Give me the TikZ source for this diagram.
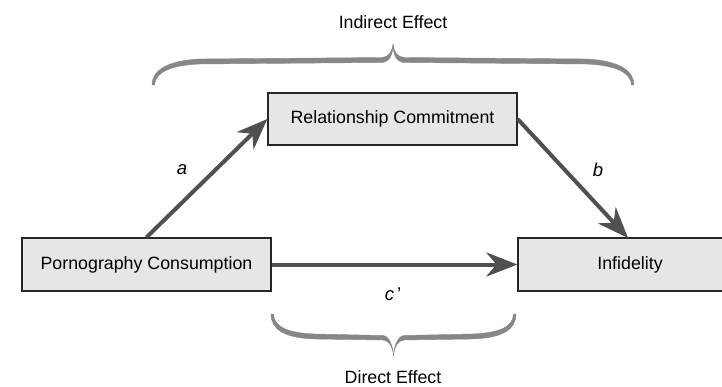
\documentclass[tikz,border=0pt]{standalone}
\usepackage{fontspec}
\setmainfont{Liberation Sans}
\usetikzlibrary{arrows.meta}
\definecolor{arrowgray}{RGB}{80,80,80}
\definecolor{bracegray}{RGB}{135,135,135}
\definecolor{boxfill}{RGB}{230,230,230}
\begin{document}
\begin{tikzpicture}[x=1pt,y=-1pt,
  varbox/.style={draw=black!85, line width=1.3pt, fill=boxfill, minimum height=53pt, inner sep=0pt,
    font=\fontsize{17.8}{21}\selectfont},
  effarrow/.style={draw=arrowgray, line width=4pt,
    -{Stealth[length=31pt,width=24pt,inset=10pt]}},
  lbl/.style={font=\fontsize{18.5}{21}\selectfont\itshape},
  efftext/.style={font=\fontsize{17.8}{21}\selectfont},
  bracestyle/.style={fill=bracegray, draw=bracegray, line width=0.4pt}]
\useasboundingbox (0,0) rectangle (722,387);
\clip (0,0) rectangle (722,387);
\node[varbox, minimum width=249pt] (pc) at (146.5,264.5) {Pornography Consumption};
\node[varbox, minimum width=249pt, minimum height=52pt] (rc) at (392.5,119) {Relationship Commitment};
\node[varbox, minimum width=224pt] (inf) at (630,264.5) {Infidelity};
\coordinate (bend) at (628,238);
\draw[effarrow] (pc.north) -- (rc.west);
\draw[effarrow] (rc.east) -- (bend);
\draw[effarrow] (pc.east) -- (inf.west);
\node[lbl] (la) at (182,170) {a};
\node[lbl] (lb) at (598,170) {b};
\node[lbl] (lc) at (393,294) {c\,{\upshape\char"0027}};
% top brace (left half, then right half)
\path[bracestyle] (152,85) .. controls (152,70) and (168,60.5) .. (200,59)
  -- (382,57.5) .. controls (389,57) and (392,52) .. (393,44)
  .. controls (393,54) and (390,62) .. (382,62.5)
  -- (200,64) .. controls (172,65) and (155,72) .. (154.5,85) -- cycle;
\path[bracestyle] (634,85) .. controls (634,70) and (618,60.5) .. (586,59)
  -- (404,57.5) .. controls (397,57) and (394,52) .. (393,44)
  .. controls (393,54) and (396,62) .. (404,62.5)
  -- (586,64) .. controls (614,65) and (631,72) .. (631.5,85) -- cycle;
\node[efftext] (ie) at (393,22) {Indirect Effect};
% bottom brace
\path[bracestyle] (271,314) .. controls (271,330) and (285,338) .. (315,339)
  -- (383,340) .. controls (389,340.5) and (392.5,346) .. (393.5,356)
  .. controls (393,348) and (390,336) .. (383,335.5)
  -- (315,334) .. controls (290,333) and (274,328) .. (273.5,314) -- cycle;
\path[bracestyle] (516,314) .. controls (516,330) and (502,338) .. (472,339)
  -- (404,340) .. controls (398,340.5) and (394.5,346) .. (393.5,356)
  .. controls (394,348) and (397,336) .. (404,335.5)
  -- (472,334) .. controls (497,333) and (513,328) .. (513.5,314) -- cycle;
\node[efftext] (de) at (393,377) {Direct Effect};
\end{tikzpicture}
\end{document}
